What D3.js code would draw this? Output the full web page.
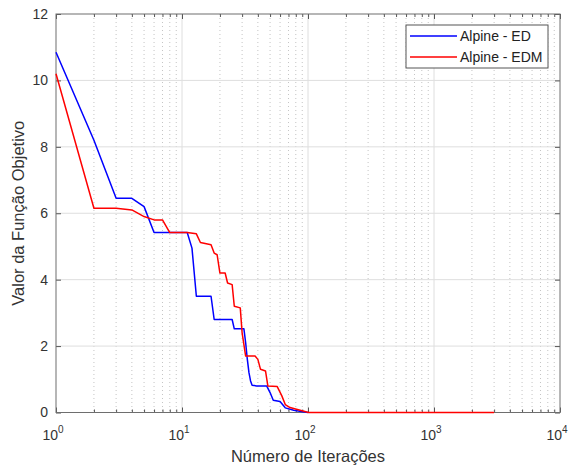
<!DOCTYPE html>
<html>
<head>
<meta charset="utf-8">
<script src="https://cdn.jsdelivr.net/npm/d3@7"></script>
<style>
  html, body { margin: 0; padding: 0; background: #fff; }
  svg { display: block; font-family: "Liberation Sans", Arial, Helvetica, sans-serif; }
</style>
</head>
<body>
<svg id="chart" width="570" height="470"></svg>
<script>
// Convergence history of the objective function (Alpine) for two optimizers
const edIter  = [1, 2, 3, 4, 5, 6, 11, 12, 13, 17, 18, 25, 26, 31, 32, 33, 34, 35, 36, 39, 47, 50, 53, 60, 66, 77, 91, 100];
const edValue = [10.85, 8.2, 6.45, 6.45, 6.2, 5.42, 5.42, 4.95, 3.5, 3.5, 2.8, 2.8, 2.52, 2.52, 2.1, 1.6, 1.2, 0.95, 0.82, 0.8, 0.8, 0.6, 0.37, 0.33, 0.14, 0.07, 0.02, 0];

const edmIter  = [1, 2, 3, 4, 5, 6, 7, 8, 11, 13, 14, 17, 18, 19, 20, 22, 23, 25, 26, 29, 30, 32, 38, 40, 42, 46, 48, 57, 62, 66, 72, 81, 101, 3000];
const edmValue = [10.2, 6.15, 6.15, 6.1, 5.9, 5.8, 5.8, 5.42, 5.42, 5.38, 5.12, 5.05, 4.8, 4.75, 4.2, 4.2, 3.9, 3.85, 3.2, 3.15, 2.4, 1.7, 1.7, 1.6, 1.3, 1.25, 0.8, 0.78, 0.5, 0.24, 0.15, 0.1, 0, 0];

const seriesNames  = ["Alpine - ED", "Alpine - EDM"];
const seriesColors = ["#0000ff", "#ff0000"];

const xMajorTicks = [1, 10, 100, 1000, 10000];
const xMinorTicks = [];
for (let d = 1; d < 10000; d *= 10) for (let m = 2; m <= 9; m++) xMinorTicks.push(d * m);
const yTicks = [0, 2, 4, 6, 8, 10, 12];

const plotLeft = 56, plotRight = 560, plotTop = 14, plotBottom = 412.5;
const svg = d3.select("#chart");

const x = d3.scaleLog().domain([1, 10000]).range([plotLeft, plotRight]);
const y = d3.scaleLinear().domain([0, 12]).range([plotBottom, plotTop]);

// grid
const grid = svg.append("g");
grid.selectAll(".minor").data(xMinorTicks).join("line")
  .attr("x1", d => x(d)).attr("x2", d => x(d))
  .attr("y1", plotTop).attr("y2", plotBottom)
  .attr("stroke", "#c4c4c4").attr("stroke-width", 1)
  .attr("stroke-dasharray", "1,3");
grid.selectAll(".majx").data(xMajorTicks.slice(1, -1)).join("line")
  .attr("x1", d => x(d)).attr("x2", d => x(d))
  .attr("y1", plotTop).attr("y2", plotBottom)
  .attr("stroke", "#dedede").attr("stroke-width", 1);
grid.selectAll(".majy").data(yTicks.slice(1, -1)).join("line")
  .attr("x1", plotLeft).attr("x2", plotRight)
  .attr("y1", d => y(d)).attr("y2", d => y(d))
  .attr("stroke", "#dedede").attr("stroke-width", 1);

// axes (inward ticks on all four sides)
function styleAxis(g) {
  g.select(".domain").remove();
  g.selectAll(".tick line").attr("stroke", "#555");
  g.selectAll(".tick text").remove();
}
svg.append("g").attr("transform", `translate(0,${plotBottom})`)
  .call(d3.axisBottom(x).tickValues(xMajorTicks).tickSize(-5).tickFormat(""))
  .call(styleAxis);
svg.append("g").attr("transform", `translate(0,${plotBottom})`)
  .call(d3.axisBottom(x).tickValues(xMinorTicks).tickSize(-3).tickFormat(""))
  .call(styleAxis);
svg.append("g").attr("transform", `translate(0,${plotTop})`)
  .call(d3.axisTop(x).tickValues(xMajorTicks).tickSize(-5).tickFormat(""))
  .call(styleAxis);
svg.append("g").attr("transform", `translate(0,${plotTop})`)
  .call(d3.axisTop(x).tickValues(xMinorTicks).tickSize(-3).tickFormat(""))
  .call(styleAxis);
svg.append("g").attr("transform", `translate(${plotLeft},0)`)
  .call(d3.axisLeft(y).tickValues(yTicks).tickSize(-5).tickFormat(""))
  .call(styleAxis);
svg.append("g").attr("transform", `translate(${plotRight},0)`)
  .call(d3.axisRight(y).tickValues(yTicks).tickSize(-5).tickFormat(""))
  .call(styleAxis);

svg.append("rect")
  .attr("x", plotLeft).attr("y", plotTop)
  .attr("width", plotRight - plotLeft).attr("height", plotBottom - plotTop)
  .attr("fill", "none").attr("stroke", "#6e6e6e").attr("stroke-width", 1);

// data lines, drawn over the frame so the zero level stays visible
const line = d3.line().x(d => x(d[0])).y(d => y(d[1]));
const series = [
  d3.zip(edIter, edValue),
  d3.zip(edmIter, edmValue)
];
svg.append("g")
  .selectAll("path").data(series).join("path")
  .attr("d", line)
  .attr("fill", "none")
  .attr("stroke", (d, i) => seriesColors[i])
  .attr("stroke-width", 1.5)
  .attr("stroke-linejoin", "round");

// tick labels
const textColor = "#333";
svg.append("g").selectAll("text").data(yTicks).join("text")
  .attr("x", plotLeft - 8).attr("y", d => y(d))
  .attr("dy", "0.35em")
  .attr("text-anchor", "end")
  .attr("font-size", 14).attr("fill", textColor)
  .text(d => d);

const xl = svg.append("g").selectAll("text").data(xMajorTicks).join("text")
  .attr("x", d => x(d) - 3).attr("y", 440)
  .attr("text-anchor", "middle")
  .attr("font-size", 14).attr("fill", textColor);
xl.append("tspan").text("10");
xl.append("tspan").attr("dy", -7).attr("font-size", 10)
  .text(d => Math.round(Math.log10(d)));

// axis titles
svg.append("text")
  .attr("x", (plotLeft + plotRight) / 2).attr("y", 462)
  .attr("text-anchor", "middle").attr("font-size", 16.5).attr("fill", textColor)
  .text("Número de Iterações");
svg.append("text")
  .attr("transform", `translate(24,${(plotTop + plotBottom) / 2}) rotate(-90)`)
  .attr("text-anchor", "middle").attr("font-size", 16.5).attr("fill", textColor)
  .text("Valor da Função Objetivo");

// legend
const legend = svg.append("g");
legend.append("rect")
  .attr("x", 406).attr("y", 25).attr("width", 142).attr("height", 43)
  .attr("fill", "#fff").attr("stroke", "#555").attr("stroke-width", 1);
const items = legend.selectAll("g").data(seriesNames).join("g")
  .attr("transform", (d, i) => `translate(0,${36 + i * 21})`);
items.append("line")
  .attr("x1", 410).attr("x2", 457).attr("y1", 0).attr("y2", 0)
  .attr("stroke", (d, i) => seriesColors[i]).attr("stroke-width", 1.5);
items.append("text")
  .attr("x", 460).attr("y", 0).attr("dy", "0.36em")
  .attr("font-size", 14).attr("fill", "#222")
  .text(d => d);
</script>
</body>
</html>
